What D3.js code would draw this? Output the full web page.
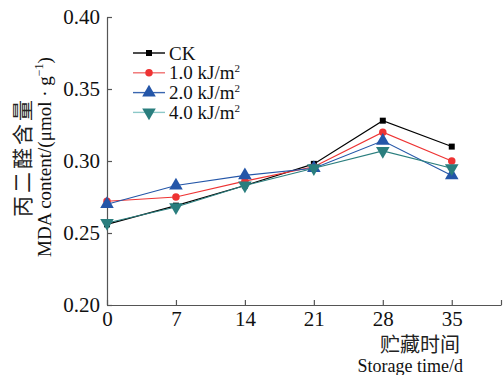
<!DOCTYPE html>
<html><head><meta charset="utf-8">
<script src="https://cdn.jsdelivr.net/npm/d3@7"></script>
<style>body{margin:0;background:#fff}svg{display:block}</style>
</head><body><svg id="c" width="503" height="375"></svg>
<script>
const days = [0, 7, 14, 21, 28, 35];
const seriesNames = ["CK", "1.0 kJ/m²", "2.0 kJ/m²", "4.0 kJ/m²"];
const ck   = [0.256, 0.269, 0.283, 0.298, 0.328, 0.310];
const uv1  = [0.272, 0.275, 0.286, 0.296, 0.320, 0.300];
const uv2  = [0.270, 0.283, 0.290, 0.295, 0.314, 0.290];
const uv4  = [0.257, 0.268, 0.283, 0.295, 0.307, 0.295];
const xTicks = [0, 7, 14, 21, 28, 35];
const yTicks = [0.20, 0.25, 0.30, 0.35, 0.40];

const colors = ["#000000", "#ee3333", "#2456a8", "#2a7e7e"];
const legendLine = ["#000000", "#f07070", "#3a66b0", "#8cc8c8"];
const shapes = [d3.symbolSquare, d3.symbolCircle, d3.symbolTriangle, "tri-down"];
const data = [ck, uv1, uv2, uv4];

const svg = d3.select("#c");
const font = "'Liberation Serif', 'Times New Roman', serif";
const x = d3.scaleLinear().domain([0, 40]).range([107, 501]);
const y = d3.scaleLinear().domain([0.20, 0.40]).range([305, 17]);

const axisColor = "#555";
// x axis
const gx = svg.append("g").attr("transform", "translate(0,305)")
  .call(d3.axisBottom(x).tickValues([...xTicks, 40]).tickSizeInner(-5).tickSizeOuter(0).tickPadding(6)
    .tickFormat(d => xTicks.includes(d) ? d : ""));
gx.select(".domain").attr("stroke", axisColor).attr("stroke-width", 1.2);
gx.selectAll(".tick line").attr("stroke", axisColor).attr("stroke-width", 1.2);
gx.selectAll("text").attr("font-family", font).attr("font-size", 21).attr("fill", "#111");
// y axis
const gy = svg.append("g").attr("transform", "translate(107,0)")
  .call(d3.axisLeft(y).tickValues(yTicks).tickSizeInner(-5).tickSizeOuter(0).tickPadding(7)
    .tickFormat(d3.format(".2f")));
gy.select(".domain").attr("stroke", axisColor).attr("stroke-width", 1.2);
gy.selectAll(".tick line").attr("stroke", axisColor).attr("stroke-width", 1.2);
gy.selectAll("text").attr("font-family", font).attr("font-size", 21).attr("fill", "#111");

function sym(shape, size) {
  if (shape === "tri-down") {
    return d3.symbol().type(d3.symbolTriangle).size(size)();
  }
  return d3.symbol().type(shape).size(size)();
}
const sizes = [36, 44, 80, 80];

data.forEach((vals, i) => {
  const line = d3.line().x((d, j) => x(days[j])).y(d => y(d));
  svg.append("path").datum(vals).attr("d", line)
    .attr("fill", "none").attr("stroke", colors[i]).attr("stroke-width", 1.1);
  svg.selectAll(".m" + i).data(vals).enter().append("path")
    .attr("d", sym(shapes[i], sizes[i]))
    .attr("transform", (d, j) => `translate(${x(days[j])},${y(d)})` + (shapes[i] === "tri-down" ? " rotate(180)" : ""))
    .attr("fill", colors[i]);
});

// legend
const ly0 = 53, ldy = 19.8;
seriesNames.forEach((name, i) => {
  const yy = ly0 + i * ldy;
  svg.append("line").attr("x1", 133).attr("x2", 165).attr("y1", yy).attr("y2", yy)
    .attr("stroke", legendLine[i]).attr("stroke-width", 1.4);
  svg.append("path").attr("d", sym(shapes[i], sizes[i]))
    .attr("transform", `translate(149,${yy})` + (shapes[i] === "tri-down" ? " rotate(180)" : ""))
    .attr("fill", colors[i]);
  const t = svg.append("text").attr("x", 169).attr("y", yy + 6.5)
    .attr("font-family", font).attr("font-size", 19).attr("fill", "#111");
  if (name === "CK") t.text("CK");
  else {
    t.text(name.replace("²", ""));
    t.append("tspan").attr("font-size", 11).attr("dy", -7).text("2");
  }
});

// y axis title
const yt = svg.append("g").attr("transform", "translate(0,157) rotate(-90)");
yt.append("text").attr("x", 0).attr("y", 30).attr("text-anchor", "middle")
  .attr("font-family", "'Noto Sans CJK SC', sans-serif").attr("font-size", 21).attr("fill", "#222")
  .attr("letter-spacing", 3).text("丙二醛含量");
const mt = yt.append("text").attr("x", 0).attr("y", 51).attr("text-anchor", "middle")
  .attr("font-family", font).attr("font-size", 19).attr("fill", "#111");
mt.append("tspan").text("MDA content/(μmol · g");
mt.append("tspan").attr("font-size", 12).attr("dy", -8).text("−1");
mt.append("tspan").attr("dy", 8).text(")");

// x axis title
svg.append("text").attr("x", 420).attr("y", 352).attr("text-anchor", "middle")
  .attr("font-family", "'Noto Sans CJK SC', sans-serif").attr("font-size", 20).attr("fill", "#222")
  .text("贮藏时间");
svg.append("text").attr("x", 463).attr("y", 372).attr("text-anchor", "end")
  .attr("font-family", font).attr("font-size", 18).attr("fill", "#111")
  .text("Storage time/d");
</script></body></html>
